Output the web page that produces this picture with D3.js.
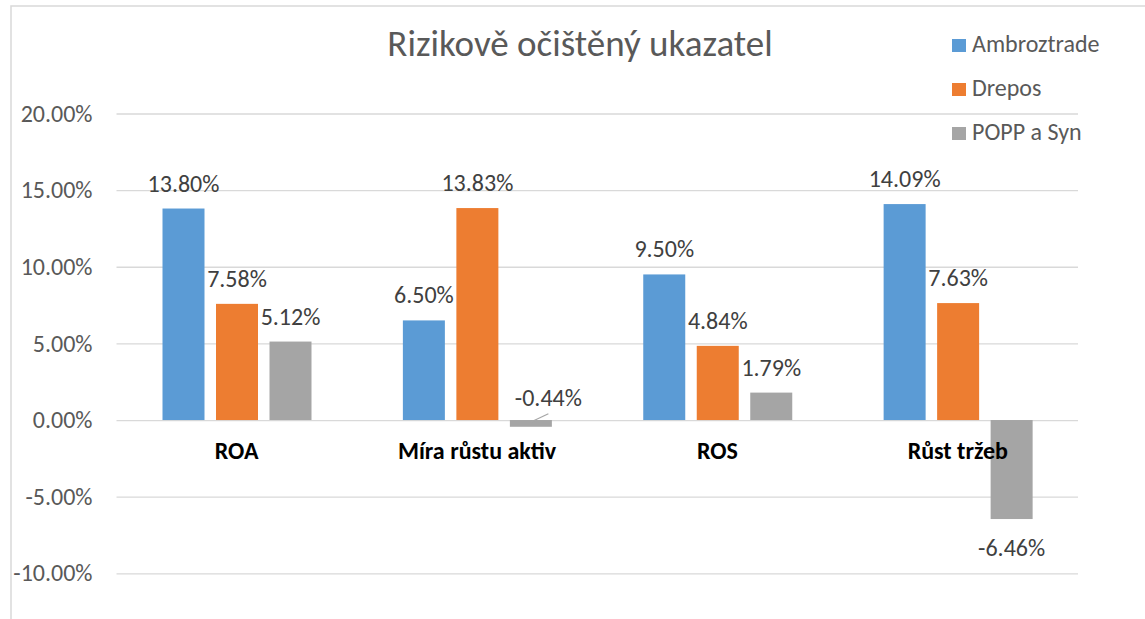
<!DOCTYPE html>
<html>
<head>
<meta charset="utf-8">
<script src="https://cdn.jsdelivr.net/npm/d3@7"></script>
<style>
  body { margin: 0; background: #fff; }
  svg { display: block; font-family: Carlito, Calibri, Lato, sans-serif; }
</style>
</head>
<body>
<div id="chart"></div>
<script>
'use strict';

// Chart data ======================
var categories = ['ROA', 'Míra růstu aktiv', 'ROS', 'Růst tržeb'];
var seriesNames = ['Ambroztrade', 'Drepos', 'POPP a Syn'];
var ambroztrade = [13.80, 6.50, 9.50, 14.09];
var drepos = [7.58, 13.83, 4.84, 7.63];
var poppASyn = [5.12, -0.44, 1.79, -6.46];
var yTicks = [-10, -5, 0, 5, 10, 15, 20];
var titleText = 'Rizikově očištěný ukazatel';

var seriesValues = [ambroztrade, drepos, poppASyn];
var colors = ['#5B9BD5', '#ED7D31', '#A5A5A5'];

//Sizing things.
var width = 1145;
var height = 619;
var plotLeft = 116.5, plotRight = 1078;

var svg = d3.select('#chart').append('svg')
  .attr('width', width)
  .attr('height', height);

// outer chart border (runs off the right and bottom of the picture)
svg.append('rect')
  .attr('x', 11).attr('y', 6)
  .attr('width', width + 20).attr('height', height + 20)
  .attr('fill', 'none')
  .attr('stroke', '#d9d9d9')
  .attr('stroke-width', 1.5);

var y = d3.scaleLinear().domain([-10, 20]).range([573.3, 113.5]);
var x0 = d3.scaleBand().domain(categories).range([plotLeft, plotRight]);
var x1 = d3.scaleBand().domain(seriesNames).range([46, 195]).paddingInner(0.215);

// gridlines + tick labels
var yAxis = d3.axisLeft(y)
  .tickValues(yTicks)
  .tickSize(-(plotRight - plotLeft))
  .tickPadding(24)
  .tickFormat(function (d) { return d.toFixed(2) + '%'; });

var axisG = svg.append('g')
  .attr('transform', 'translate(' + plotLeft + ',0)')
  .call(yAxis);
axisG.select('.domain').remove();
axisG.selectAll('.tick line').attr('stroke', '#d9d9d9').attr('stroke-width', 1.3);
axisG.selectAll('.tick text')
  .attr('fill', '#595959')
  .style('font-size', '24px')
  .style('font-family', 'Carlito, Calibri, Lato, sans-serif');

// flatten to bar records
var bars = [];
categories.forEach(function (cat, ci) {
  seriesNames.forEach(function (s, si) {
    bars.push({ cat: cat, series: s, si: si, value: seriesValues[si][ci] });
  });
});

var groups = svg.append('g').classed('bars', true);
groups.selectAll('rect')
  .data(bars)
  .enter().append('rect')
  .attr('x', function (d) { return x0(d.cat) + x1(d.series); })
  .attr('width', x1.bandwidth())
  .attr('y', function (d) { return y(Math.max(0, d.value)); })
  .attr('height', function (d) { return Math.abs(y(d.value) - y(0)); })
  .attr('fill', function (d) { return colors[d.si]; });

// label nudges (style only, not data)
var labelNudge = { 'POPP a Syn|Míra růstu aktiv': { dx: 17.5, dy: -58, leader: true } };

var labels = svg.append('g').classed('labels', true);
bars.forEach(function (d) {
  var cx = x0(d.cat) + x1(d.series) + x1.bandwidth() / 2;
  var by = d.value >= 0 ? y(d.value) - 17 : y(d.value) + 37;
  var n = labelNudge[d.series + '|' + d.cat];
  var lx = cx + (n ? n.dx : 0);
  var ly = by + (n ? n.dy : 0);
  if (n && n.leader) {
    labels.append('line')
      .attr('x1', cx).attr('y1', y(0) + 2)
      .attr('x2', lx).attr('y2', ly + 8)
      .attr('stroke', '#a6a6a6').attr('stroke-width', 1.2);
  }
  labels.append('text')
    .attr('x', lx).attr('y', ly)
    .attr('text-anchor', 'middle')
    .attr('fill', '#404040')
    .style('font-size', '24px')
    .text(d.value.toFixed(2) + '%');
});

// category names under zero line
svg.append('g').selectAll('text')
  .data(categories)
  .enter().append('text')
  .attr('x', function (d) { return x0(d) + x0.bandwidth() / 2; })
  .attr('y', 459)
  .attr('text-anchor', 'middle')
  .attr('fill', '#000')
  .style('font-size', '24px')
  .style('font-weight', 'bold')
  .text(function (d) { return d; });

// title
svg.append('text')
  .attr('x', 580).attr('y', 56)
  .attr('text-anchor', 'middle')
  .attr('fill', '#595959')
  .style('font-size', '37px')
  .text(titleText);

// legend
var legend = svg.append('g').attr('transform', 'translate(952,39)');
var items = legend.selectAll('g')
  .data(seriesNames)
  .enter().append('g')
  .attr('transform', function (d, i) { return 'translate(0,' + (i * 44) + ')'; });
items.append('rect')
  .attr('width', 14).attr('height', 13)
  .attr('fill', function (d, i) { return colors[i]; });
items.append('text')
  .attr('x', 20).attr('y', 13)
  .attr('fill', '#595959')
  .style('font-size', '24px')
  .text(function (d) { return d; });
</script>
</body>
</html>
